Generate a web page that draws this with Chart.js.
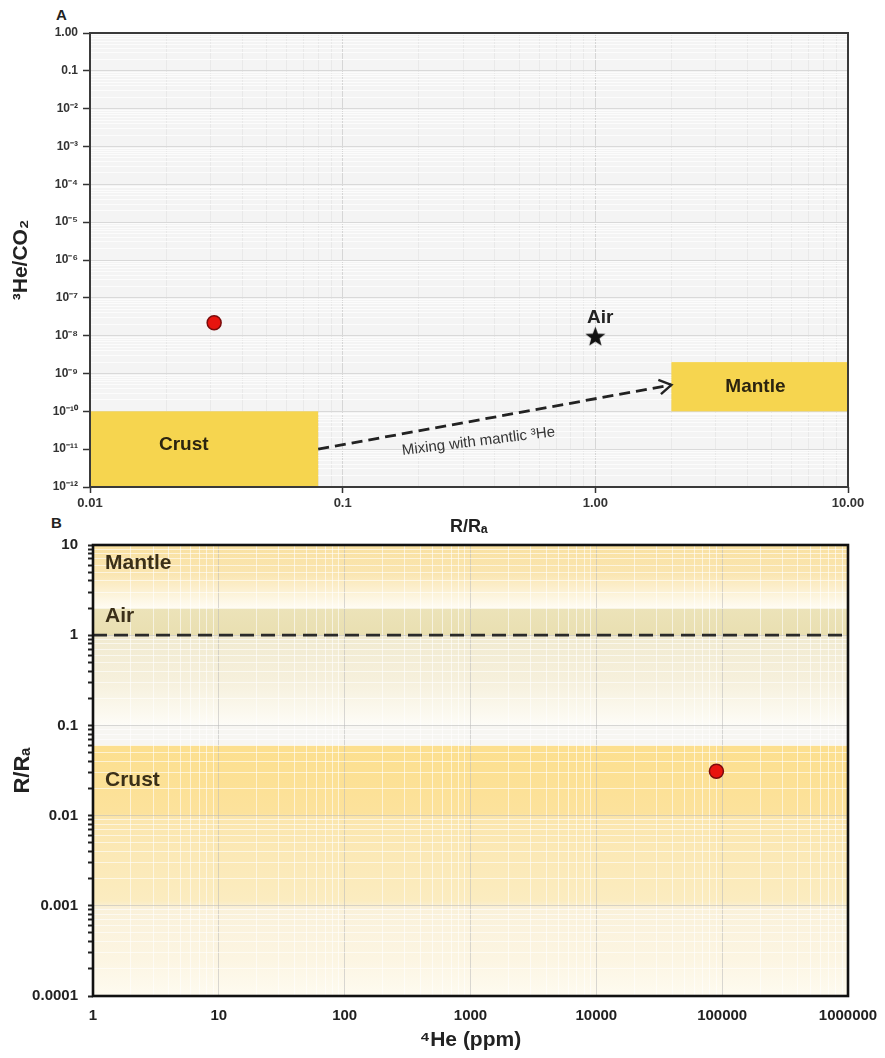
<!DOCTYPE html>
<html>
<head>
<meta charset="utf-8">
<script src="https://cdn.jsdelivr.net/npm/chart.js@4.4.1/dist/chart.umd.min.js"></script>
<style>
  body { margin: 0; background: #fff; width: 885px; height: 1058px; position: relative; overflow: hidden;
         font-family: "Liberation Sans", Arial, sans-serif; }
  canvas { position: absolute; left: 0; }
  #chartA { top: 0; }
  #chartB { top: 520px; }
  .panel { position: absolute; font-weight: bold; font-size: 15px; color: #222; }
</style>
</head>
<body>
<div class="panel" style="left:56px;top:6px">A</div>
<div class="panel" style="left:51px;top:514px">B</div>
<canvas id="chartA" width="885" height="540"></canvas>
<canvas id="chartB" width="885" height="538"></canvas>
<script>
// ---- panel A: 3He/CO2 against R/Ra ----
const sampleRatioA = [0.031];
const sampleHeCO2 = [2.2e-8];
const airRatio = [1];
const airHeCO2 = [1e-8];
const crustBoxR = [0.01, 0.08];
const crustBoxHeCO2 = [1e-12, 1e-10];
const mantleBoxR = [2, 10];
const mantleBoxHeCO2 = [1e-10, 2e-9];
const mixingR = [0.08, 2];
const mixingHeCO2 = [1e-11, 5e-10];
const xTickLabelsA = ['0.01', '0.1', '1.00', '10.00'];            // 10^-2 .. 10^1
const yTickLabelsA = ['10⁻¹²', '10⁻¹¹', '10⁻¹⁰', '10⁻⁹', '10⁻⁸', '10⁻⁷',
                      '10⁻⁶', '10⁻⁵', '10⁻⁴', '10⁻³', '10⁻²', '0.1', '1.00']; // 10^-12 .. 10^0

// ---- panel B: R/Ra against 4He ----
const sampleHe4 = [90000];
const sampleRatioB = [0.031];
const airLineHe4 = [1, 1000000];
const airLineRatio = [1, 1];
const mantleBandB = [2, 10];
const airBandB = [1, 2];
const crustBandB = [0.0001, 0.06];
const xTickLabelsB = ['1', '10', '100', '1000', '10000', '100000', '1000000'];
const yTickLabelsB = ['0.0001', '0.001', '0.01', '0.1', '1', '10'];

const FONT = '"Liberation Sans", Arial, sans-serif';

function isDecade(v) {
  const e = Math.log10(v);
  return Math.abs(e - Math.round(e)) < 1e-9;
}

// 1..9 x 10^n ticks between two exponents
function logTicks(minExp, maxExp) {
  const out = [];
  for (let e = minExp; e < maxExp; e++) {
    for (let s = 1; s < 10; s++) out.push({ value: Number((s * Math.pow(10, e)).toPrecision(3)) });
  }
  out.push({ value: Math.pow(10, maxExp) });
  return out;
}

function labelFrom(list, minExp) {
  return function (v) {
    if (!isDecade(v)) return '';
    return list[Math.round(Math.log10(v)) - minExp];
  };
}

function starImage(size) {
  const c = document.createElement('canvas');
  c.width = c.height = size;
  const g = c.getContext('2d');
  g.beginPath();
  for (let i = 0; i < 10; i++) {
    const r = i % 2 ? size * 0.21 : size * 0.5;
    const a = -Math.PI / 2 + i * Math.PI / 5;
    g.lineTo(size / 2 + r * Math.cos(a), size / 2 + 1.5 + r * Math.sin(a));
  }
  g.closePath();
  g.fillStyle = '#111';
  g.fill();
  return c;
}

function toXY(xs, ys) { return xs.map((x, i) => ({ x: x, y: ys[i] })); }

const panelA = {
  id: 'panelA',
  beforeDraw(chart) {
    const { ctx, chartArea: a } = chart;
    ctx.save();
    ctx.fillStyle = '#f4f4f4';
    ctx.fillRect(a.left, a.top, a.width, a.height);
    ctx.restore();
  },
  beforeDatasetsDraw(chart) {
    const { ctx, scales: { x, y } } = chart;
    ctx.save();
    ctx.fillStyle = '#f6d54f';
    [[crustBoxR, crustBoxHeCO2], [mantleBoxR, mantleBoxHeCO2]].forEach(([r, h]) => {
      const x0 = x.getPixelForValue(r[0]), x1 = x.getPixelForValue(r[1]);
      const y0 = y.getPixelForValue(h[1]), y1 = y.getPixelForValue(h[0]);
      ctx.fillRect(x0, y0, x1 - x0, y1 - y0);
    });
    ctx.restore();
  },
  afterDatasetsDraw(chart) {
    const { ctx, chartArea: a, scales: { x, y } } = chart;
    ctx.save();
    // arrow head on the mixing line
    const px0 = x.getPixelForValue(mixingR[0]), py0 = y.getPixelForValue(mixingHeCO2[0]);
    const px1 = x.getPixelForValue(mixingR[1]), py1 = y.getPixelForValue(mixingHeCO2[1]);
    const ang = Math.atan2(py1 - py0, px1 - px0);
    ctx.strokeStyle = '#222';
    ctx.lineWidth = 2.4;
    ctx.beginPath();
    ctx.moveTo(px1 - 14 * Math.cos(ang - 0.55), py1 - 14 * Math.sin(ang - 0.55));
    ctx.lineTo(px1, py1);
    ctx.lineTo(px1 - 14 * Math.cos(ang + 0.55), py1 - 14 * Math.sin(ang + 0.55));
    ctx.stroke();

    ctx.fillStyle = '#2b2410';
    ctx.textAlign = 'center';
    ctx.textBaseline = 'middle';
    ctx.font = 'bold 19px ' + FONT;
    ctx.fillText('Crust', x.getPixelForValue(0.0235), y.getPixelForValue(1.3e-11));
    ctx.fillText('Mantle', x.getPixelForValue(4.3), y.getPixelForValue(4.4e-10));
    ctx.fillStyle = '#222';
    ctx.fillText('Air', x.getPixelForValue(1.045), y.getPixelForValue(2.9e-8));

    ctx.translate(x.getPixelForValue(0.345), y.getPixelForValue(1.6e-11));
    ctx.rotate(-7 * Math.PI / 180);
    ctx.font = '15px ' + FONT;
    ctx.fillStyle = '#333';
    ctx.fillText('Mixing with mantlic ³He', 0, 0);
    ctx.restore();

    ctx.save();
    ctx.strokeStyle = '#3a3a3a';
    ctx.lineWidth = 2;
    ctx.strokeRect(a.left, a.top, a.width, a.height);
    ctx.restore();
  }
};

new Chart(document.getElementById('chartA'), {
  type: 'scatter',
  data: {
    datasets: [
      { data: toXY(mixingR, mixingHeCO2), showLine: true, borderColor: '#222', borderWidth: 2.8,
        borderDash: [11, 6], pointRadius: 0 },
      { data: toXY(airRatio, airHeCO2), pointStyle: starImage(21), pointRadius: 10 },
      { data: toXY(sampleRatioA, sampleHeCO2), backgroundColor: '#e8140e', borderColor: '#7a0c0c',
        borderWidth: 1.5, pointRadius: 7 }
    ]
  },
  options: {
    responsive: false, animation: false, devicePixelRatio: 1,
    layout: { padding: { top: 33, right: 37, left: 0, bottom: 0 } },
    plugins: { legend: { display: false }, tooltip: { enabled: false } },
    scales: {
      x: {
        type: 'logarithmic', position: 'bottom', min: 0.01, max: 10,
        afterBuildTicks: s => { s.ticks = logTicks(-2, 1); },
        afterFit: s => { s.height = 53; },
        border: { display: false },
        grid: {
          color: c => c.tick && isDecade(c.tick.value) ? '#d6d6d6' : '#e9e9e9',
          tickColor: c => c.tick && isDecade(c.tick.value) ? '#333' : 'rgba(0,0,0,0)',
          tickLength: 6, tickWidth: 1.5
        },
        ticks: { autoSkip: false, maxRotation: 0, padding: 3, color: '#333',
                 font: { family: FONT, size: 13, weight: 'bold' }, callback: labelFrom(xTickLabelsA, -2) },
        title: { display: true, text: 'R/Rₐ', color: '#222', padding: { top: 0, bottom: 2 },
                 font: { family: FONT, size: 18, weight: 'bold' } }
      },
      y: {
        type: 'logarithmic', min: 1e-12, max: 1,
        afterBuildTicks: s => { s.ticks = logTicks(-12, 0); },
        afterFit: s => { s.width = 90; },
        border: { display: false },
        grid: {
          color: c => c.tick && isDecade(c.tick.value) ? '#d9d9d9' : '#fcfcfc',
          tickColor: c => c.tick && isDecade(c.tick.value) ? '#333' : 'rgba(0,0,0,0)',
          tickLength: 7, tickWidth: 1.5
        },
        ticks: { autoSkip: false, padding: 5, color: '#333',
                 font: { family: FONT, size: 12, weight: 'bold' }, callback: labelFrom(yTickLabelsA, -12) },
        title: { display: true, text: '³He/CO₂', color: '#222', padding: { top: 9, bottom: 0 },
                 font: { family: FONT, size: 21, weight: 'bold' } }
      }
    }
  },
  plugins: [panelA]
});

// background bands for panel B, top to bottom, each with its own fade
const panelB = {
  id: 'panelB',
  beforeDraw(chart) {
    const { ctx, chartArea: a, scales: { y } } = chart;
    ctx.save();
    ctx.fillStyle = '#fbf9f1';
    ctx.fillRect(a.left, a.top, a.width, a.height);

    function band(lo, hi, stops) {
      const top = y.getPixelForValue(hi), bot = y.getPixelForValue(lo);
      const g = ctx.createLinearGradient(0, top, 0, bot);
      stops.forEach(s => g.addColorStop(s[0], s[1]));
      ctx.fillStyle = g;
      ctx.fillRect(a.left, top, a.width, bot - top);
    }
    band(mantleBandB[0], mantleBandB[1], [[0, '#f9e1a2'], [0.45, '#fae5b0'], [0.85, '#fdf6e2'], [1, '#fffcf3']]);
    band(airBandB[0], airBandB[1], [[0, '#ece3b9'], [1, '#e9dfb1']]);
    band(0.1, airBandB[0], [[0, '#f1ead0'], [0.5, '#f6f0dc'], [0.9, '#fcfaf1'], [1, '#fdfcf8']]);
    band(crustBandB[1], 0.1, [[0, '#f7f6f2'], [1, '#f7f6f2']]);
    band(crustBandB[0], crustBandB[1], [[0, '#fcdf8e'], [0.27, '#fce29c'], [0.29, '#fbe6ae'], [0.62, '#fbecc0'],
                                        [0.65, '#faf1da'], [0.85, '#fcf5e2'], [1, '#fefbf0']]);
    ctx.restore();
  },
  afterDatasetsDraw(chart) {
    const { ctx, chartArea: a, scales: { y } } = chart;
    ctx.save();
    ctx.fillStyle = '#3a2f18';
    ctx.textAlign = 'left';
    ctx.textBaseline = 'middle';
    ctx.font = 'bold 21px ' + FONT;
    ctx.fillText('Mantle', a.left + 12, y.getPixelForValue(6.3));
    ctx.fillText('Air', a.left + 12, y.getPixelForValue(1.62));
    ctx.fillText('Crust', a.left + 12, y.getPixelForValue(0.0245));
    ctx.strokeStyle = '#111';
    ctx.lineWidth = 2.6;
    ctx.strokeRect(a.left, a.top, a.width, a.height);
    ctx.restore();
  }
};

new Chart(document.getElementById('chartB'), {
  type: 'scatter',
  data: {
    datasets: [
      { data: toXY(airLineHe4, airLineRatio), showLine: true, borderColor: '#2a2a2a', borderWidth: 2.8,
        borderDash: [14, 7], pointRadius: 0 },
      { data: toXY(sampleHe4, sampleRatioB), backgroundColor: '#e8140e', borderColor: '#7a0c0c',
        borderWidth: 1.5, pointRadius: 7 }
    ]
  },
  options: {
    responsive: false, animation: false, devicePixelRatio: 1,
    layout: { padding: { top: 25, right: 37, left: 0, bottom: 0 } },
    plugins: { legend: { display: false }, tooltip: { enabled: false } },
    scales: {
      x: {
        type: 'logarithmic', position: 'bottom', min: 1, max: 1000000,
        afterBuildTicks: s => { s.ticks = logTicks(0, 6); },
        afterFit: s => { s.height = 62; },
        border: { display: false },
        grid: {
          color: c => c.tick && isDecade(c.tick.value) ? 'rgba(185,185,185,0.55)' : 'rgba(255,255,255,0.6)',
          tickColor: 'rgba(0,0,0,0)', tickLength: 7
        },
        ticks: { autoSkip: false, maxRotation: 0, padding: 4, color: '#222',
                 font: { family: FONT, size: 15, weight: 'bold' }, callback: labelFrom(xTickLabelsB, 0) },
        title: { display: true, text: '⁴He (ppm)', color: '#222', padding: { top: 0, bottom: 5 },
                 font: { family: FONT, size: 21, weight: 'bold' } }
      },
      y: {
        type: 'logarithmic', min: 0.0001, max: 10,
        afterBuildTicks: s => { s.ticks = logTicks(-4, 1); },
        afterFit: s => { s.width = 93; },
        border: { display: false },
        grid: {
          color: c => c.tick && isDecade(c.tick.value) ? 'rgba(185,185,185,0.55)' : 'rgba(255,255,255,0.6)',
          tickColor: '#222', tickLength: 5, tickWidth: 2
        },
        ticks: { autoSkip: false, padding: 10, color: '#222',
                 font: { family: FONT, size: 15, weight: 'bold' }, callback: labelFrom(yTickLabelsB, -4) },
        title: { display: true, text: 'R/Rₐ', color: '#222', padding: { top: 10, bottom: 0 },
                 font: { family: FONT, size: 22, weight: 'bold' } }
      }
    }
  },
  plugins: [panelB]
});
</script>
</body>
</html>
